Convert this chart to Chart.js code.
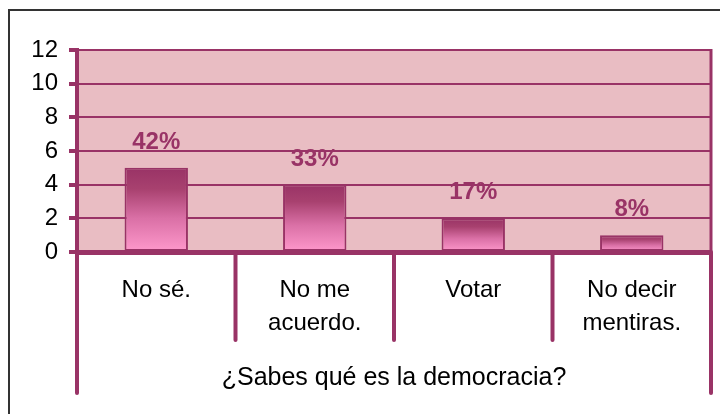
<!DOCTYPE html>
<html>
<head>
<meta charset="utf-8">
<script src="https://cdn.jsdelivr.net/npm/chart.js@4/dist/chart.umd.min.js"></script>
<style>
  html, body { margin: 0; padding: 0; background: #fff; }
  #wrap { width: 720px; height: 414px; }
</style>
</head>
<body>
<div id="wrap"><canvas id="grafico" width="720" height="414"></canvas></div>
<script>
// --- Datos ---
const categorias = ['No sé.', ['No me', 'acuerdo.'], 'Votar', ['No decir', 'mentiras.']];
const valores = [5, 4, 2, 1];
const porcentajes = ['42%', '33%', '17%', '8%'];
const ticksY = [0, 2, 4, 6, 8, 10, 12];
const tituloX = '¿Sabes qué es la democracia?';

// --- Estilo ---
const morado = '#993366';
const fondoPlot = '#e9bdc3';
const fuente = '"Liberation Sans", Arial, sans-serif';

function degradado(context) {
    const chart = context.chart;
    if (!chart.chartArea) return morado;
    const y = chart.scales.y;
    const top = y.getPixelForValue(valores[context.dataIndex]);
    const base = y.getPixelForValue(0);
    const g = chart.ctx.createLinearGradient(0, top, 0, base);
    g.addColorStop(0, '#993366');
    g.addColorStop(0.25, '#a8416f');
    g.addColorStop(0.6, '#da70a6');
    g.addColorStop(1, '#ff99cc');
    return g;
}

// Fondo, marco, divisores de categorias y porcentajes
const decoracion = {
    id: 'decoracion',
    beforeDraw(chart) {
        const { ctx, chartArea: a } = chart;
        ctx.save();
        ctx.fillStyle = fondoPlot;
        ctx.fillRect(a.left, a.top, a.right - a.left, a.bottom - a.top);
        ctx.restore();
    },
    afterDatasetsDraw(chart) {
        const { ctx, chartArea: a, scales: { x } } = chart;
        ctx.save();
        // marco exterior
        ctx.strokeStyle = '#333';
        ctx.lineWidth = 2;
        ctx.strokeRect(9, 10, 740, 440);

        // borde derecho del area
        ctx.strokeStyle = morado;
        ctx.lineWidth = 3;
        ctx.beginPath();
        ctx.moveTo(a.right, a.top - 1);
        ctx.lineTo(a.right, a.bottom);
        ctx.stroke();

        // divisores bajo el eje
        const n = valores.length;
        const mitad = (x.getPixelForValue(1) - x.getPixelForValue(0)) / 2;
        ctx.lineWidth = 4;
        ctx.lineCap = 'round';
        for (let i = 0; i <= n; i++) {
            const px = i < n ? x.getPixelForValue(i) - mitad : x.getPixelForValue(n - 1) + mitad;
            const exterior = i === 0 || i === n;
            ctx.beginPath();
            ctx.moveTo(px, a.bottom);
            ctx.lineTo(px, a.bottom + (exterior ? 141 : 88));
            ctx.stroke();
        }

        // etiquetas de porcentaje
        ctx.fillStyle = morado;
        ctx.font = 'bold 24px ' + fuente;
        ctx.textAlign = 'center';
        ctx.textBaseline = 'alphabetic';
        chart.getDatasetMeta(0).data.forEach((bar, i) => {
            ctx.fillText(porcentajes[i], bar.x, bar.y - 19);
        });
        ctx.restore();
    }
};

new Chart(document.getElementById('grafico'), {
    type: 'bar',
    data: {
        labels: categorias,
        datasets: [{
            data: valores,
            backgroundColor: degradado,
            borderColor: morado,
            borderWidth: 2,
            borderSkipped: false,
            barPercentage: 0.4,
            categoryPercentage: 1
        }]
    },
    options: {
        responsive: false,
        animation: false,
        devicePixelRatio: 1,
        layout: { padding: { left: 0, top: 50, right: 9, bottom: 0 } },
        plugins: { legend: { display: false }, tooltip: { enabled: false } },
        scales: {
            y: {
                min: 0, max: 12,
                afterFit: (s) => { s.width = 77; },
                afterBuildTicks: (s) => { s.ticks = ticksY.map(v => ({ value: v })); },
                border: { color: morado, width: 4 },
                grid: { color: morado, lineWidth: 2, tickLength: 8, tickWidth: 4, tickColor: morado },
                ticks: { color: '#000', padding: 11, font: { family: fuente, size: 24 } }
            },
            x: {
                afterFit: (s) => { s.height = 162; },
                border: { color: morado, width: 5 },
                grid: { drawOnChartArea: false, drawTicks: false },
                ticks: { color: '#000', padding: 22, maxRotation: 0, autoSkip: false,
                         font: { family: fuente, size: 24, lineHeight: 1.38 } },
                title: { display: true, text: tituloX, color: '#000',
                         font: { family: fuente, size: 25 }, padding: { top: 0, bottom: 21 } }
            }
        }
    },
    plugins: [decoracion]
});
</script>
</body>
</html>
